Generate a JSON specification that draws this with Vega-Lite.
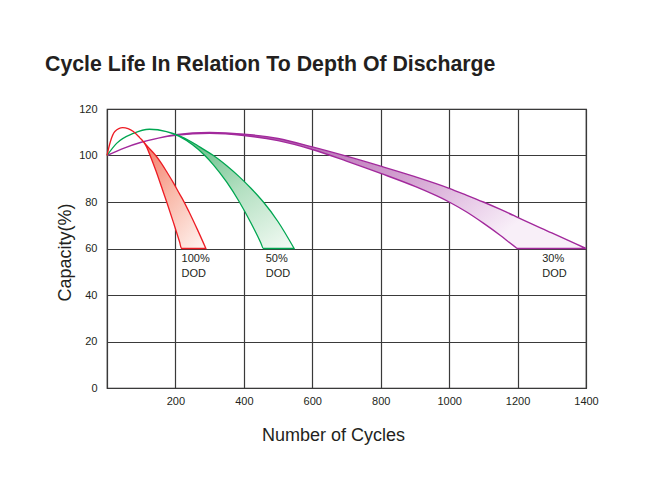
{
  "$schema": "https://vega.github.io/schema/vega-lite/v6.json",
  "width": 479,
  "height": 279,
  "autosize": "none",
  "padding": {"left": 107, "top": 109, "right": 69, "bottom": 89},
  "background": "white",
  "title": {
    "text": "Cycle Life In Relation To Depth Of Discharge",
    "anchor": "start",
    "frame": "group",
    "dx": -62,
    "offset": 11,
    "baseline": "alphabetic",
    "font": "Liberation Sans",
    "fontSize": 21.3,
    "fontWeight": "bold",
    "color": "#231f20"
  },
  "datasets": {
    "red": [
      {"x": 0, "top": 100, "bottom": 100},
      {"x": 10, "top": 106, "bottom": 106},
      {"x": 23, "top": 110.3, "bottom": 110.3},
      {"x": 46, "top": 112, "bottom": 112},
      {"x": 77, "top": 110.3, "bottom": 110.3},
      {"x": 96, "top": 107.6, "bottom": 107.6},
      {"x": 106, "top": 106, "bottom": 106},
      {"x": 116, "top": 104.3, "bottom": 103.6},
      {"x": 126, "top": 102.7, "bottom": 100},
      {"x": 143, "top": 99.9, "bottom": 93.4},
      {"x": 160, "top": 96.4, "bottom": 86.2},
      {"x": 175, "top": 92.9, "bottom": 79.8},
      {"x": 195, "top": 88, "bottom": 70.8},
      {"x": 212, "top": 83.5, "bottom": 62.9},
      {"x": 218, "top": 82, "bottom": 60},
      {"x": 240, "top": 75.7, "bottom": 60},
      {"x": 265, "top": 67.9, "bottom": 60},
      {"x": 289, "top": 60, "bottom": 60}
    ],
    "green": [
      {"x": 0, "top": 100, "bottom": 100},
      {"x": 28, "top": 105.2, "bottom": 105.2},
      {"x": 77, "top": 109.5, "bottom": 109.5},
      {"x": 124, "top": 111.3, "bottom": 111.3},
      {"x": 174, "top": 110.3, "bottom": 110.3},
      {"x": 210, "top": 108.6, "bottom": 108.3},
      {"x": 250, "top": 105.6, "bottom": 104.6},
      {"x": 286, "top": 102.3, "bottom": 100},
      {"x": 311, "top": 100, "bottom": 96},
      {"x": 350, "top": 95.6, "bottom": 88.5},
      {"x": 387, "top": 90.8, "bottom": 80},
      {"x": 420, "top": 86, "bottom": 71.2},
      {"x": 450, "top": 81.2, "bottom": 62.3},
      {"x": 457, "top": 80, "bottom": 60},
      {"x": 500, "top": 71.5, "bottom": 60},
      {"x": 547, "top": 60, "bottom": 60}
    ],
    "purple": [
      {"x": 0, "top": 100, "bottom": 100},
      {"x": 50, "top": 103.2, "bottom": 103.2},
      {"x": 100, "top": 105.7, "bottom": 105.7},
      {"x": 150, "top": 107.5, "bottom": 107.5},
      {"x": 200, "top": 108.9, "bottom": 108.7},
      {"x": 300, "top": 109.9, "bottom": 109.5},
      {"x": 400, "top": 109.2, "bottom": 108.6},
      {"x": 500, "top": 107.3, "bottom": 106.4},
      {"x": 600, "top": 103.7, "bottom": 102.6},
      {"x": 700, "top": 99.7, "bottom": 97.6},
      {"x": 800, "top": 95.4, "bottom": 92.3},
      {"x": 900, "top": 90.9, "bottom": 86.7},
      {"x": 1000, "top": 85.9, "bottom": 80},
      {"x": 1050, "top": 83, "bottom": 75.8},
      {"x": 1100, "top": 80, "bottom": 70.9},
      {"x": 1150, "top": 76.8, "bottom": 65.6},
      {"x": 1190, "top": 74.1, "bottom": 61},
      {"x": 1200, "top": 73.4, "bottom": 60},
      {"x": 1300, "top": 66.7, "bottom": 60},
      {"x": 1400, "top": 60, "bottom": 60}
    ],
    "labels": [
      {"x": 218, "top": 55.3, "label": "100%"},
      {"x": 218, "top": 48.9, "label": "DOD"},
      {"x": 464, "top": 55.3, "label": "50%"},
      {"x": 464, "top": 48.9, "label": "DOD"},
      {"x": 1272, "top": 55.3, "label": "30%"},
      {"x": 1272, "top": 48.9, "label": "DOD"}
    ]
  },
  "encoding": {
    "x": {
      "field": "x",
      "type": "quantitative",
      "scale": {"domain": [0, 1400], "nice": false},
      "axis": {
        "values": [0, 200, 400, 600, 800, 1000, 1200, 1400],
        "format": "d",
        "labelExpr": "datum.value == 0 ? '' : datum.label",
        "labelPadding": 7,
        "labelFlush": false,
        "title": "Number of Cycles",
        "titleX": 226,
        "titleY": 47,
        "titleBaseline": "middle"
      }
    },
    "y": {
      "field": "top",
      "type": "quantitative",
      "scale": {"domain": [0, 120], "nice": false},
      "axis": {
        "values": [0, 20, 40, 60, 80, 100, 120],
        "labelPadding": 10,
        "labelFlush": false,
        "title": "Capacity(%)",
        "titleX": -42,
        "titleY": 143,
        "titleAngle": -90,
        "titleAlign": "center",
        "titleBaseline": "middle"
      }
    }
  },
  "layer": [
    {
      "data": {"name": "purple"},
      "mark": {
        "type": "area",
        "interpolate": "monotone",
        "stroke": "#a2299c",
        "strokeWidth": 1.4,
        "color": {
          "gradient": "linear",
          "x1": 0, "y1": 0, "x2": 1, "y2": 0.3,
          "stops": [
            {"offset": 0.35, "color": "#b466b1"},
            {"offset": 0.7, "color": "#d5a6d3"},
            {"offset": 0.86, "color": "#e8cce8"},
            {"offset": 1, "color": "#f8eff8"}
          ]
        }
      },
      "encoding": {"y2": {"field": "bottom"}}
    },
    {
      "data": {"name": "green"},
      "mark": {
        "type": "area",
        "interpolate": "monotone",
        "stroke": "#00a651",
        "strokeWidth": 1.3,
        "color": {
          "gradient": "linear",
          "x1": 0, "y1": 0, "x2": 1, "y2": 1,
          "stops": [
            {"offset": 0.2, "color": "#52b679"},
            {"offset": 0.6, "color": "#b2dfc0"},
            {"offset": 1, "color": "#f4fbf5"}
          ]
        }
      },
      "encoding": {"y2": {"field": "bottom"}}
    },
    {
      "data": {"name": "red"},
      "mark": {
        "type": "area",
        "interpolate": "monotone",
        "stroke": "#ed1c24",
        "strokeWidth": 1.3,
        "color": {
          "gradient": "linear",
          "x1": 0, "y1": 0, "x2": 1, "y2": 1,
          "stops": [
            {"offset": 0.2, "color": "#f36e5c"},
            {"offset": 0.6, "color": "#f9baaa"},
            {"offset": 1, "color": "#fff6f3"}
          ]
        }
      },
      "encoding": {"y2": {"field": "bottom"}}
    },
    {
      "data": {"name": "labels"},
      "mark": {
        "type": "text",
        "align": "left",
        "baseline": "middle",
        "font": "Liberation Sans",
        "fontSize": 11,
        "color": "#231f20"
      },
      "encoding": {"text": {"field": "label"}}
    }
  ],
  "config": {
    "view": {"stroke": "#231f20", "strokeWidth": 1.2},
    "axis": {
      "domain": false,
      "ticks": false,
      "grid": true,
      "gridColor": "#3a3a3a",
      "gridWidth": 1.2,
      "gridOpacity": 1,
      "labelFont": "Liberation Sans",
      "labelFontSize": 11,
      "labelColor": "#231f20",
      "titleFont": "Liberation Sans",
      "titleFontSize": 18,
      "titleFontWeight": "normal",
      "titleColor": "#231f20"
    }
  }
}
